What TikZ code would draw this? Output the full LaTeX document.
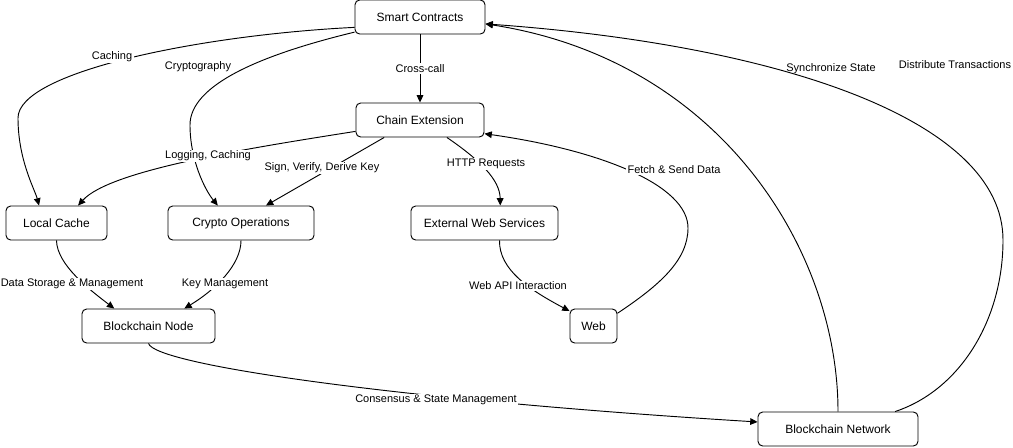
\documentclass[tikz,border=0pt]{standalone}
\usepackage{fontspec}
\setmainfont{Liberation Sans}
\usetikzlibrary{arrows.meta}

\begin{document}
\begin{tikzpicture}[
    x=0.75pt, y=-0.75pt,
    box/.style={draw, line width=0.7pt, rounded corners=3.5pt,
                minimum height=25.5pt, inner sep=0pt,
                font=\fontsize{9}{11}\selectfont, text centered},
    lbl/.style={fill=white, inner sep=1pt, font=\fontsize{8.25}{10}\selectfont},
    free/.style={lbl, fill=none},
    flow/.style={draw, line width=0.7pt,
                 -{Triangle[length=5.5pt, width=5pt]}},
  ]
  \useasboundingbox (0,0) rectangle (1013,447);

  % Components
  \node[box, minimum width=97.5pt] (sc) at (420,17) {Smart Contracts};
  \node[box, minimum width=96pt] (ce) at (420,120) {Chain Extension};
  \node[box, minimum width=75.75pt] (lc) at (56.5,223) {Local Cache};
  \node[box, minimum width=109.5pt] (co) at (241,223) {Crypto Operations};
  \node[box, minimum width=110.25pt] (ews) at (484.5,223) {External Web Services};
  \node[box, minimum width=99.75pt] (bn) at (148.5,326) {Blockchain Node};
  \node[box, minimum width=35.25pt] (web) at (593.5,326) {Web};
  \node[box, minimum width=120pt] (bnet) at (838,429) {Blockchain Network};

  % Smart Contracts
  \draw[flow] (sc) -- node[lbl] {Cross-call} (ce);
  \draw[flow] (sc.189) .. controls (200,35) and (18,72) .. (18,118)
    .. controls (18,160) and (35,190) .. (lc.135)
    node[lbl] at (112,57) {Caching};
  \draw[flow] (sc.193) .. controls (260,55) and (190,85) .. (190,125)
    .. controls (190,160) and (205,190) .. (co.143)
    node[lbl] at (198,67) {Cryptography};

  % Chain Extension
  \draw[flow] (ce.190) .. controls (250,148) and (110,170) .. (lc.39)
    node[lbl] at (208,156) {Logging, Caching};
  \draw[flow] (ce.206) -- (co.35)
    node[lbl] at (322,168) {Sign, Verify, Derive Key};
  \draw[flow] (ce.327) .. controls (480,160) and (500,180) .. (ews.48)
    node[lbl] at (486,164) {HTTP Requests};

  % Web side
  \draw[flow] (ews.south) ++(15,0) coordinate (ewsout)
    (ewsout) .. controls (499,270) and (530,290) .. (web.148)
    node[lbl] at (518,286) {Web API Interaction};
  \draw[flow] (web.28) .. controls (660,285) and (688,260) .. (688,228)
    .. controls (688,185) and (600,150) .. (ce.348.5)
    node[lbl] at (674,170) {Fetch \& Send Data};

  % Storage and keys
  \draw[flow] (lc.south) .. controls (57,265) and (90,290) .. (bn.153)
    node[lbl] at (72,284) {Data Storage \& Management};
  \draw[flow] (co.south) .. controls (241,265) and (215,290) .. (bn.26)
    node[lbl] at (225,284) {Key Management};

  % Network
  \draw[flow] (bn.south) .. controls (155,365) and (400,400) .. (bnet.175)
    node[lbl] at (436,400) {Consensus \& State Management};
  \draw[flow] (bnet.north) .. controls (838,250) and (720,60) .. (sc.354)
    node[free] at (955,65) {Distribute Transactions};
  \draw[flow] (bnet.17) .. controls (960,390) and (1003,320) .. (1003,240)
    .. controls (1003,120) and (780,45) .. (sc.354)
    node[free] at (831,69) {Synchronize State};
\end{tikzpicture}
\end{document}
